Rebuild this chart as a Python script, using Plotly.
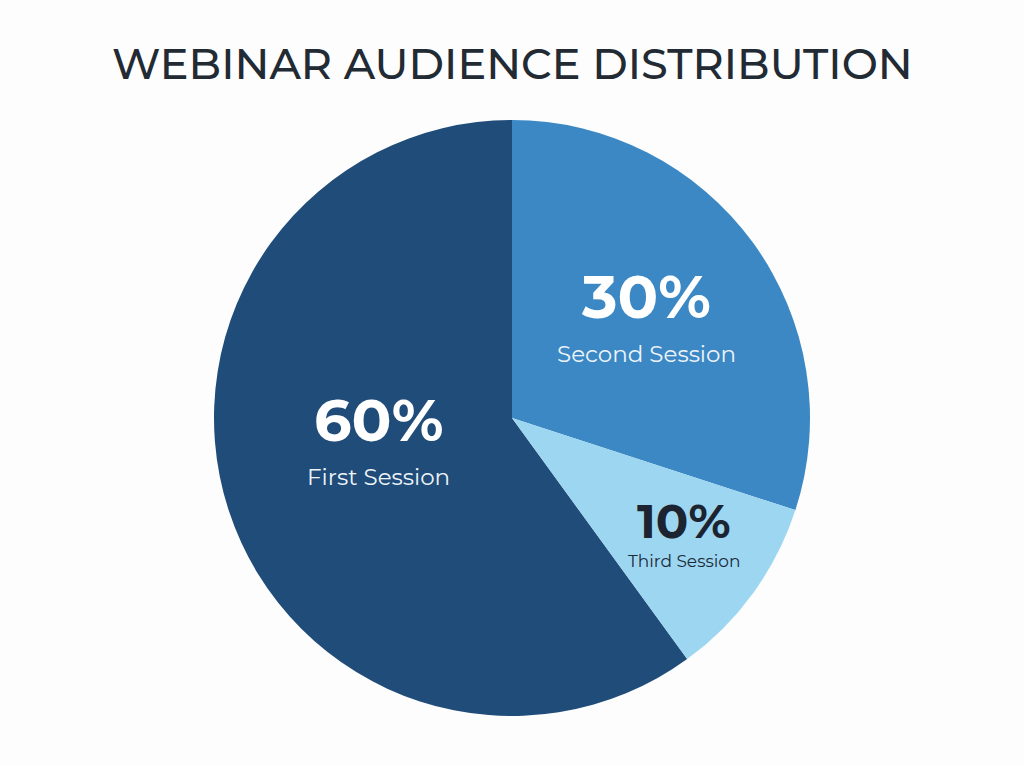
import plotly.graph_objects as go

# Audience share per webinar session
sessions = ["First Session", "Second Session", "Third Session"]
audience_share = [60, 30, 10]

slice_colors = ["#1f4c79", "#3b88c4", "#9dd6f1"]
pct_colors = ["#ffffff", "#ffffff", "#1b2430"]
name_colors = ["#eef4fa", "#eef4fa", "#1b2a3a"]
pct_sizes = [59, 60, 48]
name_sizes = [23, 23, 17]
# label anchor (x, y) in pixels for percent line and name line
pct_pos = [(378, 420), (646, 297), (684, 521)]
name_pos = [(378, 477), (646, 354), (684, 561)]

W, H = 1024, 765
cx, cy, r = 512, 418, 298

fig = go.Figure(
    go.Pie(
        labels=sessions,
        values=audience_share,
        sort=False,
        direction="clockwise",
        rotation=144,
        marker=dict(colors=slice_colors, line=dict(width=0)),
        textinfo="none",
        hoverinfo="label+percent",
        showlegend=False,
        domain=dict(x=[(cx - r) / W, (cx + r) / W], y=[(H - cy - r) / H, (H - cy + r) / H]),
    )
)

total = sum(audience_share)
font_family = "Montserrat, 'Open Sans', sans-serif"
annotations = []
for i, (name, val) in enumerate(zip(sessions, audience_share)):
    pct = round(val / total * 100)
    px, py = pct_pos[i]
    annotations.append(dict(
        x=px / W, y=1 - py / H, xref="paper", yref="paper",
        text=f"{pct}%", showarrow=False,
        xanchor="center", yanchor="middle",
        font=dict(family=font_family, size=pct_sizes[i], color=pct_colors[i], weight=700),
    ))
    nx, ny = name_pos[i]
    annotations.append(dict(
        x=nx / W, y=1 - ny / H, xref="paper", yref="paper",
        text=name, showarrow=False,
        xanchor="center", yanchor="middle",
        font=dict(family=font_family, size=name_sizes[i], color=name_colors[i]),
    ))

annotations.append(dict(
    x=0.5, y=1 - 63 / H, xref="paper", yref="paper",
    text="WEBINAR AUDIENCE DISTRIBUTION", showarrow=False,
    xanchor="center", yanchor="middle",
    font=dict(family=font_family, size=43, color="#222a33", weight=500),
))

fig.update_layout(
    width=W, height=H,
    margin=dict(l=0, r=0, t=0, b=0),
    paper_bgcolor="#fdfdfd",
    plot_bgcolor="#fdfdfd",
    annotations=annotations,
)

fig.write_html("out.html")
